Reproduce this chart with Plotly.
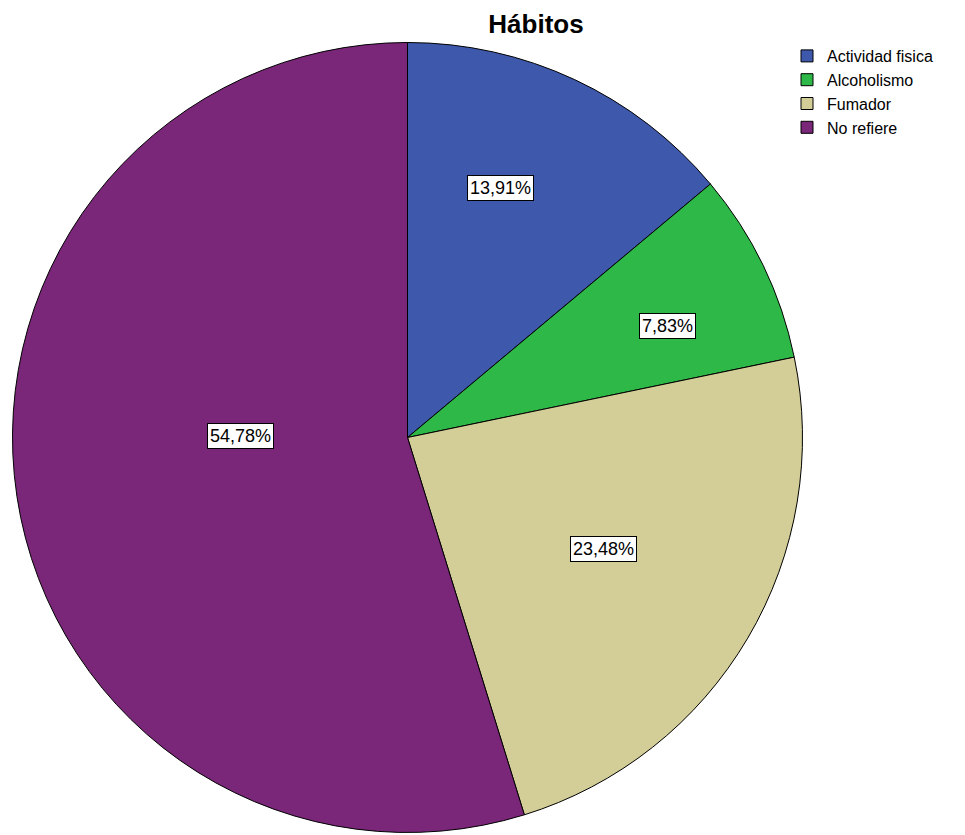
import math
import plotly.graph_objects as go

categories = ["Actividad fisica", "Alcoholismo", "Fumador", "No refiere"]
values = [13.91, 7.83, 23.48, 54.78]
label_text = ["13,91%", "7,83%", "23,48%", "54,78%"]

colors = ["#3E58AC", "#2EB848", "#D3CE97", "#7B2779"]
# boxed label placement: fraction of radius, angular tweak (deg) from slice middle
label_radius = [0.674, 0.715, 0.572, 0.424]
label_angle_tweak = [-4.7, 2.6, -0.9, 9.1]

OFF = 8  # page body margin
W, H = 965 - OFF, 835 - OFF
cx, cy, R = 407.5 - OFF, 437.5 - OFF, 395

FONT = "Liberation Sans, Arial, sans-serif"

fig = go.Figure(go.Pie(
    labels=categories,
    values=values,
    sort=False,
    direction="clockwise",
    rotation=0,
    textinfo="none",
    hoverinfo="label+percent",
    marker=dict(colors=colors, line=dict(color="black", width=1)),
    domain=dict(x=[(cx - R) / W, (cx + R) / W], y=[1 - (cy + R) / H, 1 - (cy - R) / H]),
))

total = sum(values)
cum = 0
annotations = []
for v, t, rf, tw in zip(values, label_text, label_radius, label_angle_tweak):
    mid = (cum + v / 2) / total * 2 * math.pi + math.radians(tw)
    cum += v
    px = cx + rf * R * math.sin(mid)
    py = cy - rf * R * math.cos(mid)
    annotations.append(dict(
        x=px / W, y=1 - py / H, xref="paper", yref="paper",
        xanchor="center", yanchor="middle",
        text=t, showarrow=False,
        font=dict(family=FONT, size=18, color="black"),
        bgcolor="white", bordercolor="black", borderwidth=1, borderpad=2,
    ))

fig.update_layout(
    width=W, height=H,
    margin=dict(l=0, r=0, t=0, b=0),
    paper_bgcolor="white",
    title=dict(text="<b>Hábitos</b>", x=(536 - OFF) / W, xanchor="center",
               y=1 - (23.5 - OFF) / H, yanchor="middle",
               font=dict(family=FONT, size=26, color="black")),
    legend=dict(x=(787 - OFF) / W, y=1 - (39 - OFF) / H, xanchor="left", yanchor="top",
                font=dict(family=FONT, size=16, color="black"),
                bgcolor="rgba(0,0,0,0)", itemwidth=30, tracegroupgap=0),
    annotations=annotations,
)

fig.write_html("out.html")
